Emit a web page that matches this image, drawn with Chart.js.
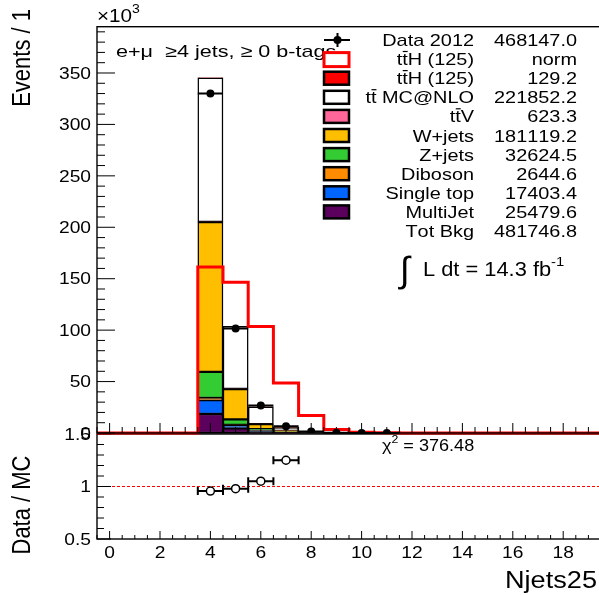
<!DOCTYPE html>
<html>
<head>
<meta charset="utf-8">
<script src="https://cdn.jsdelivr.net/npm/chart.js@4.4.1/dist/chart.umd.min.js"></script>
<style>
  html, body { margin: 0; padding: 0; background: #fff; overflow: hidden; }
  #wrap { position: relative; width: 599px; height: 595px; overflow: hidden; }
  #wrap canvas { position: absolute; left: 0; top: 0; }
</style>
</head>
<body>
<div id="wrap">
  <canvas id="ratioPad" width="610" height="595"></canvas>
  <canvas id="mainPad" width="610" height="595"></canvas>
</div>
<script>
// Njets25 bins that carry events (all other bins are empty)
const njets = [4, 5, 6, 7, 8, 9, 10, 11];

// backgrounds, in 10^3 events, bottom of the stack first
const multiJet  = [18.5, 4.6, 1.5, 0.6, 0.2, 0.05, 0.02, 0.01];
const singleTop = [13.5, 2.8, 0.8, 0.25, 0.05, 0.01, 0, 0];
const diboson   = [2.0, 0.5, 0.12, 0.03, 0.005, 0, 0, 0];
const zJets     = [25.5, 5.3, 1.4, 0.35, 0.07, 0.01, 0, 0];
const wJets     = [145.5, 29.5, 4.8, 1.1, 0.22, 0.05, 0.01, 0];
const ttV       = [0.3, 0.2, 0.08, 0.03, 0.01, 0.003, 0, 0];
const ttbar     = [139.9, 60.7, 16.8, 2.8, 0.39, 0.07, 0, 0];
const ttH       = [0.04, 0.045, 0.03, 0.01, 0.004, 0.001, 0, 0];

// ttH shape normalised to the total background
const ttHNorm   = [161.5, 146.5, 103.5, 48.6, 16.9, 3.3, 0.8, 0.2];

// data, 10^3 events
const data2012  = [330.1, 101.5, 26.8, 6.45, 1.5, 0.33, 0.07, 0.02];

// axes
const xMin = -0.5, xMax = 19.5;
const xTickLabels = [0, 2, 4, 6, 8, 10, 12, 14, 16, 18];
const yTickLabels = [0, 50, 100, 150, 200, 250, 300, 350];
const ratioTickLabels = [0.5, 1, 1.5];

// legend
const legendLabels = ['Data 2012', 'tt\u0305H (125)', 'tt\u0305H (125)', 'tt\u0305 MC@NLO', 'tt\u0305V',
  'W+jets', 'Z+jets', 'Diboson', 'Single top', 'MultiJet', 'Tot Bkg'];
const legendYields = ['468147.0', 'norm', '129.2', '221852.2', '623.3',
  '181119.2', '32624.5', '2644.6', '17403.4', '25479.6', '481746.8'];

const colors = {
  ttH: '#ff0000', ttbar: '#ffffff', ttV: '#ff6699', wJets: '#ffbf00', zJets: '#33cc33',
  diboson: '#ff8c00', singleTop: '#0066ff', multiJet: '#5c005e'
};
const legendSwatch = ['data', 'norm', colors.ttH, colors.ttbar, colors.ttV, colors.wJets,
  colors.zJets, colors.diboson, colors.singleTop, colors.multiJet, null];

const stackTable = [
  { name: 'MultiJet', values: multiJet, color: colors.multiJet },
  { name: 'Single top', values: singleTop, color: colors.singleTop },
  { name: 'Diboson', values: diboson, color: colors.diboson },
  { name: 'Z+jets', values: zJets, color: colors.zJets },
  { name: 'W+jets', values: wJets, color: colors.wJets },
  { name: 'ttV', values: ttV, color: colors.ttV },
  { name: 'tt MC@NLO', values: ttbar, color: colors.ttbar },
  { name: 'ttH', values: ttH, color: colors.ttH }
];

const FONT = '"Liberation Sans", Arial, Helvetica, sans-serif';
const SX = 1.2; // glyphs are drawn a bit wide, like the ROOT canvas

// text with optional superscripts ({t, sup}) and overlined letters (x\u0305)
function drawText(ctx, segs, x, y, o = {}) {
  const size = o.size || 16, sx = o.sx || SX, align = o.align || 'left';
  if (typeof segs === 'string') segs = [segs];
  const pieces = [];
  segs.forEach(s => {
    const seg = typeof s === 'string' ? { t: s } : s;
    const fs = seg.sup ? size * 0.68 : size;
    for (let i = 0; i < seg.t.length; i++) {
      const bar = seg.t[i + 1] === '\u0305';
      pieces.push({ ch: seg.t[i], fs, sup: !!seg.sup, bar });
      if (bar) i++;
    }
  });
  ctx.save();
  let w = 0;
  pieces.forEach(p => { ctx.font = `${p.fs}px ${FONT}`; p.w = ctx.measureText(p.ch).width; w += p.w; });
  ctx.translate(x, y);
  if (o.rotate) { ctx.rotate(-Math.PI / 2); ctx.scale(1, sx); } else ctx.scale(sx, 1);
  let cx = align === 'right' ? -w : align === 'center' ? -w / 2 : 0;
  const dy = o.middle ? size * 0.36 : 0;
  ctx.fillStyle = '#000';
  ctx.strokeStyle = '#000';
  ctx.textBaseline = 'alphabetic';
  ctx.textAlign = 'left';
  pieces.forEach(p => {
    ctx.font = `${p.fs}px ${FONT}`;
    const by = dy + (p.sup ? -size * 0.5 : 0);
    ctx.fillText(p.ch, cx, by);
    if (p.bar) {
      ctx.lineWidth = 1.2;
      ctx.beginPath();
      ctx.moveTo(cx + 0.5, by - size * 0.8);
      ctx.lineTo(cx + p.w, by - size * 0.8);
      ctx.stroke();
    }
    cx += p.w;
  });
  ctx.restore();
}

// frame and ROOT style ticks pointing into the pad
function rootAxes(cfg) {
  return {
    id: 'rootAxes',
    afterDatasetsDraw(chart) {
      const { ctx, chartArea: a, scales: { x, y } } = chart;
      ctx.save();
      ctx.strokeStyle = '#000';
      ctx.lineWidth = 1;
      ctx.beginPath();
      for (let k = 0; xMin + k * 0.5 <= xMax; k++) {
        const v = xMin + k * 0.5;
        const px = x.getPixelForValue(v);
        const len = v % 2 === 0 ? cfg.xMajor : cfg.xMinor;
        ctx.moveTo(px, a.bottom);
        ctx.lineTo(px, a.bottom - len);
      }
      const nMinor = Math.floor((y.max - y.min) / cfg.yMinorStep + 1e-6);
      for (let k = 0; k <= nMinor; k++) {
        const v = y.min + k * cfg.yMinorStep;
        const r = (v - y.min) / cfg.yMajorStep;
        const major = Math.abs(r - Math.round(r)) < 1e-6;
        const py = y.getPixelForValue(v);
        ctx.moveTo(a.left, py);
        ctx.lineTo(a.left + (major ? cfg.yMajor : cfg.yMinor), py);
      }
      ctx.stroke();
      ctx.lineWidth = 1.4;
      ctx.strokeRect(a.left, a.top, a.right - a.left, a.bottom - a.top);
      ctx.restore();

      cfg.yLabels.forEach(v => {
        drawText(ctx, String(v), a.left - 6, y.getPixelForValue(v), { size: 16, align: 'right', middle: true });
      });
      if (cfg.xLabels) {
        cfg.xLabels.forEach(v => {
          drawText(ctx, String(v), x.getPixelForValue(v), 552, { size: 16, align: 'center', middle: true });
        });
      }
    }
  };
}

// horizontal bin-width bars (with optional end caps) under the markers
const errorBars = {
  id: 'errorBars',
  beforeDatasetDraw(chart, args) {
    const ds = chart.data.datasets[args.index];
    if (!ds.xErr) return;
    const { ctx, scales: { x, y }, chartArea: a } = chart;
    ctx.save();
    ctx.strokeStyle = '#000';
    ctx.lineWidth = 2;
    ctx.beginPath();
    ds.data.forEach(p => {
      const py = y.getPixelForValue(p.y);
      if (py < a.top || py > a.bottom) return;
      const x0 = x.getPixelForValue(p.x - ds.xErr);
      const x1 = x.getPixelForValue(p.x + ds.xErr);
      ctx.moveTo(x0, py);
      ctx.lineTo(x1, py);
      if (ds.caps) {
        ctx.moveTo(x0, py - ds.caps); ctx.lineTo(x0, py + ds.caps);
        ctx.moveTo(x1, py - ds.caps); ctx.lineTo(x1, py + ds.caps);
      }
    });
    ctx.stroke();
    ctx.restore();
  }
};

// titles, legend and luminosity on the upper pad
const mainText = {
  id: 'mainText',
  afterDraw(chart) {
    const ctx = chart.ctx;
    drawText(ctx, ['\u00d710', { t: '3', sup: true }], 97, 22, { size: 18, sx: 1.15 });
    drawText(ctx, 'Events / 1', 30, 9, { size: 22, rotate: true, align: 'right', sx: 1.15 });
    drawText(ctx, 'e+\u03bc  \u22654 jets, \u2265 0 b-tags', 116, 57, { size: 17, sx: 1.27 });

    const y0 = 40, dy = 19.1, bx = 324, bw = 25, bh = 13;
    legendLabels.forEach((lab, i) => {
      const cy = y0 + i * dy;
      const sw = legendSwatch[i];
      ctx.save();
      if (sw === 'data') {
        ctx.strokeStyle = '#000';
        ctx.lineWidth = 2;
        ctx.beginPath();
        ctx.moveTo(bx, cy); ctx.lineTo(bx + bw + 1, cy);
        ctx.moveTo(bx + bw / 2 + 1, cy - 7); ctx.lineTo(bx + bw / 2 + 1, cy + 7);
        ctx.stroke();
        ctx.fillStyle = '#000';
        ctx.beginPath(); ctx.arc(bx + bw / 2 + 1, cy, 4, 0, Math.PI * 2); ctx.fill();
      } else if (sw === 'norm') {
        ctx.fillStyle = '#fff';
        ctx.strokeStyle = colors.ttH;
        ctx.lineWidth = 3;
        ctx.fillRect(bx, cy - bh / 2, bw, bh + 1);
        ctx.strokeRect(bx, cy - bh / 2, bw, bh + 1);
      } else if (sw) {
        ctx.fillStyle = sw;
        ctx.strokeStyle = '#000';
        ctx.lineWidth = 2.5;
        ctx.fillRect(bx, cy - bh / 2, bw, bh);
        ctx.strokeRect(bx, cy - bh / 2, bw, bh);
      }
      ctx.restore();
      drawText(ctx, lab, 474, cy + 6, { size: 17, align: 'right', sx: 1.17 });
      drawText(ctx, legendYields[i], 577, cy + 6, { size: 17, align: 'right', sx: 1.17 });
    });

    drawText(ctx, '\u222b', 400, 282, { size: 36, sx: 1 });
    drawText(ctx, ['L dt = 14.3 fb', { t: '-1', sup: true }], 423, 276, { size: 19.5, sx: 1.12 });
  }
};

const ratioText = {
  id: 'ratioText',
  afterDraw(chart) {
    const ctx = chart.ctx;
    drawText(ctx, 'Data / MC', 30, 505, { size: 22, rotate: true, align: 'center', sx: 1.15 });
    drawText(ctx, ['\u03c7', { t: '2', sup: true }, ' = 376.48'], 382, 451, { size: 16, sx: 1.13 });
    drawText(ctx, 'Njets25', 597, 588, { size: 23, align: 'right', sx: 1.18 });
  }
};

// ---- upper pad: stacked backgrounds, ttH shape and data ----
const nBins = 20;
const binOf = (arr, b) => { const i = njets.indexOf(b); return i < 0 ? 0 : arr[i]; };
const normSteps = [];
for (let b = 0; b < nBins; b++) {
  const v = binOf(ttHNorm, b);
  normSteps.push({ x: b - 0.5, y: v }, { x: b + 0.5, y: v });
}

const stackSets = stackTable.map(s => ({
  type: 'bar',
  label: s.name,
  data: njets.map((n, i) => ({ x: n, y: s.values[i] })).filter(p => p.y > 0),
  backgroundColor: s.color,
  borderColor: '#000',
  borderWidth: 1.5,
  borderSkipped: false,
  barPercentage: 1,
  categoryPercentage: 1,
  stack: 'bkg',
  order: 2
}));

new Chart(document.getElementById('mainPad'), {
  data: {
    datasets: [
      ...stackSets,
      {
        type: 'line', label: 'ttH norm', data: normSteps, stack: 'norm', order: 1,
        borderColor: colors.ttH, borderWidth: 3, pointRadius: 0, fill: false, tension: 0, clip: false
      },
      {
        type: 'scatter', label: 'Data 2012', stack: 'data', order: 0, xErr: 0.5,
        data: njets.map((n, i) => ({ x: n, y: data2012[i] })),
        pointRadius: 4, pointBackgroundColor: '#000', pointBorderColor: '#000', pointBorderWidth: 0
      }
    ]
  },
  options: {
    responsive: false,
    animation: false,
    events: [],
    layout: { padding: { left: 97, right: 9, top: 26.7, bottom: 162 } },
    plugins: { legend: { display: false }, tooltip: { enabled: false } },
    scales: {
      x: { type: 'linear', min: xMin, max: xMax, offset: false, stacked: true, display: false },
      y: { type: 'linear', min: 0, max: 395, stacked: true, display: false }
    }
  },
  plugins: [errorBars, rootAxes({ xMajor: 10, xMinor: 6, yMajor: 18, yMinor: 8, yMajorStep: 50, yMinorStep: 10, yLabels: yTickLabels }), mainText]
});

// ---- lower pad: data over total background ----
const mcTotal = njets.map((_, i) => stackTable.filter(s => s.name !== 'ttH').reduce((t, s) => t + s.values[i], 0));
const ratio = njets.map((n, i) => ({ x: n, y: data2012[i] / mcTotal[i] })).filter(p => p.y >= 0.5 && p.y <= 1.5);

new Chart(document.getElementById('ratioPad'), {
  data: {
    datasets: [
      {
        type: 'line', label: 'unity', data: [{ x: xMin, y: 1 }, { x: xMax, y: 1 }], order: 1,
        borderColor: '#ff0000', borderWidth: 1, borderDash: [3, 2], pointRadius: 0, fill: false
      },
      {
        type: 'scatter', label: 'Data / MC', data: ratio, order: 0, xErr: 0.5, caps: 4,
        pointRadius: 4, pointBackgroundColor: '#fff', pointBorderColor: '#000', pointBorderWidth: 1.5
      }
    ]
  },
  options: {
    responsive: false,
    animation: false,
    events: [],
    layout: { padding: { left: 97, right: 9, top: 434, bottom: 56 } },
    plugins: { legend: { display: false }, tooltip: { enabled: false } },
    scales: {
      x: { type: 'linear', min: xMin, max: xMax, offset: false, display: false },
      y: { type: 'linear', min: 0.5, max: 1.5, display: false }
    }
  },
  plugins: [errorBars, rootAxes({ xMajor: 8, xMinor: 4, yMajor: 14, yMinor: 7, yMajorStep: 0.5, yMinorStep: 0.1, yLabels: ratioTickLabels, xLabels: xTickLabels }), ratioText]
});
</script>
</body>
</html>
